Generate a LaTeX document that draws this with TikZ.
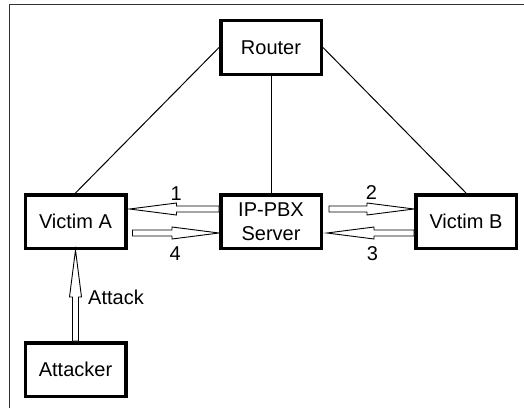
\documentclass[tikz,border=0pt]{standalone}
\usepackage{fontspec}
\setmainfont{Liberation Sans}
\usepackage{tikz}
\usetikzlibrary{calc,positioning}
\tikzstyle{Box} = [rectangle, draw=black, line width=3.5pt, minimum width=100.5pt, minimum height=53.5pt, inner sep=0pt, align=center, font=\fontsize{20}{24}\selectfont]
\tikzstyle{link} = [line width=1pt]
\tikzstyle{num} = [inner sep=0pt, font=\fontsize{20}{24}\selectfont]
% open block arrow drawn as an outline from start to target
\tikzstyle{hollow} = [draw=black, fill=white, line width=0.9pt, miter limit=20,
  to path={let \p1=(\tikztostart), \p2=(\tikztotarget), \n1={atan2(\y2-\y1,\x2-\x1)}, \n2={veclen(\x2-\x1,\y2-\y1)} in
  [shift={(\p1)}, rotate=\n1] (0pt,-3pt) -- ({(\n2-47)*1pt},-3pt) -- ({(\n2-47)*1pt},-6pt) -- ({\n2*1pt},0pt)
  -- ({(\n2-47)*1pt},6pt) -- ({(\n2-47)*1pt},3pt) -- (0pt,3pt) -- cycle}]

\begin{document}
\begin{tikzpicture}
\useasboundingbox (0,0) rectangle (524pt,408pt);
\draw[line width=1.4pt, draw=black!80] (9.5pt,0pt) -- (9.5pt,403.5pt) -- (524pt,403.5pt);

\node (Router)[Box] at (271pt,360.5pt) {Router};
\node (Server)[Box, below of = Router, node distance=174pt] {IP-PBX\\Server};
\node (Victim A)[Box, left of = Server, node distance=195.5pt] {Victim A};
\node (Victim B)[Box, right of = Server, node distance=195pt] {Victim B};
\node (Attacker)[Box, below of = Victim A, node distance=148pt] {Attacker};

\draw[link](Router.west)--(Victim A.north);
\draw[link](Router.south)--(Server.north);
\draw[link](Router.east)--(Victim B.north);

\draw[hollow]([yshift=12.5pt]Server.west) to ([yshift=12.5pt, xshift=2pt]Victim A.east);
\draw[hollow]([yshift=-11.5pt, xshift=5pt]Victim A.east) to ([yshift=-11.5pt]Server.west);
\draw[hollow]([yshift=12.5pt, xshift=6pt]Server.east) to ([yshift=12.5pt]Victim B.west);
\draw[hollow]([yshift=-11.5pt]Victim B.west) to ([yshift=-11.5pt, xshift=4pt]Server.east);
\draw[hollow](Attacker.north) to (Victim A.south);

\node (one)[num] at ($(Server.west)!0.5!(Victim A.east)+(3pt,28pt)$) {1};
\node (four)[num] at ($(Server.west)!0.5!(Victim A.east)+(2pt,-32.5pt)$) {4};
\node (two)[num] at ($(Server.east)!0.5!(Victim B.west)+(3pt,28.8pt)$) {2};
\node (three)[num] at ($(Server.east)!0.5!(Victim B.west)+(4pt,-32pt)$) {3};
\node (attack)[num] at ($(Attacker.north)!0.5!(Victim A.south)+(40.5pt,-2pt)$) {Attack};
\end{tikzpicture}
\end{document}
